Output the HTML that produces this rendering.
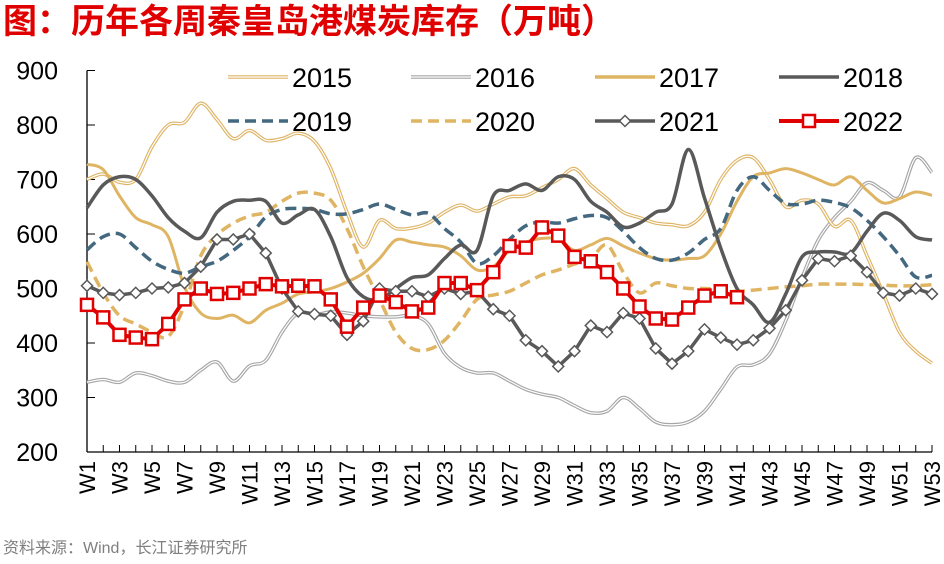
<!DOCTYPE html>
<html><head><meta charset="utf-8"><style>
body{margin:0;background:#fff;width:944px;height:559px;overflow:hidden;font-family:"Liberation Sans","Noto Sans CJK SC",sans-serif}
</style></head><body>
<svg width="944" height="559" xmlns="http://www.w3.org/2000/svg">
<text x="3" y="33" font-size="34" font-weight="bold" fill="#e00000" font-family="Liberation Sans,Noto Sans CJK SC,sans-serif">图：历年各周秦皇岛港煤炭库存（万吨）</text>
<text x="3" y="553" font-size="16" fill="#7f7f7f" font-family="Liberation Sans,Noto Sans CJK SC,sans-serif">资料来源：Wind，长江证券研究所</text>
<g id="axes"></g>
<g id="series"></g>
<g id="legend"></g>
</svg>
<script>
const yTicks=[200,300,400,500,600,700,800,900];
const weeks=[];for(let i=1;i<=53;i++)weeks.push('W'+i);
const s2015=[700,710,695,700,760,800,805,840,810,775,790,772,775,785,770,720,640,576,625,610,611,620,640,653,642,655,668,670,685,700,720,690,665,640,630,620,617,615,640,700,735,740,700,650,662,655,614,625,560,491,420,385,363];
const s2016=[328,333,328,345,340,330,328,350,365,330,358,368,420,455,452,457,455,450,448,448,450,435,381,355,345,345,330,315,306,300,285,272,275,300,280,255,250,255,275,315,356,360,380,441,520,589,630,660,694,680,668,740,713];
const s2017=[728,718,670,630,617,595,503,455,445,451,437,460,473,490,494,500,512,528,555,589,585,580,576,560,534,540,570,585,592,590,570,580,592,578,565,555,552,555,560,600,660,705,712,720,712,700,690,705,680,657,665,677,671];
const s2018=[648,690,705,700,670,630,605,593,640,660,662,660,620,635,645,595,520,485,480,500,520,525,555,580,570,670,680,692,680,705,700,660,640,613,620,640,655,755,666,574,500,470,438,490,558,567,567,565,605,638,625,595,589];
const s2019=[571,595,600,575,550,535,528,540,550,570,595,631,645,647,645,637,637,645,655,645,635,638,610,585,546,560,590,615,622,620,628,634,630,605,575,555,552,565,590,610,680,705,680,656,655,662,658,648,625,595,560,521,524];
const s2020=[549,492,450,435,420,412,470,560,598,620,633,640,660,675,675,662,610,540,480,420,390,388,405,440,480,488,495,510,525,534,545,555,580,530,492,510,505,500,500,498,495,497,500,503,505,508,508,508,507,506,505,505,507];
const s2021=[505,492,488,492,500,502,510,540,590,590,600,565,500,458,453,450,415,440,500,495,495,485,500,490,495,462,450,405,385,357,385,432,420,455,445,390,362,385,425,410,397,405,427,460,515,555,550,560,530,492,487,500,490];
const s2022=[470,447,415,410,407,435,480,500,490,492,500,508,504,505,504,480,430,465,487,475,458,465,510,510,497,530,578,575,612,597,558,550,530,500,467,445,443,465,487,495,484];

const NS='http://www.w3.org/2000/svg';
const X0=87,DX=16.25,Y900=70.5,PX=0.545;
const xs=i=>X0+i*DX, ys=v=>Y900+(900-v)*PX;
function mk(t,a,p){const e=document.createElementNS(NS,t);for(const k in a)e.setAttribute(k,a[k]);p.appendChild(e);return e;}
const axes=document.getElementById('axes');
let e=mk('line',{x1:X0,y1:ys(900),x2:X0,y2:ys(200),stroke:'#000','stroke-width':1.3},axes);


e=mk('line',{x1:X0,y1:ys(200),x2:xs(52),y2:ys(200),stroke:'#000','stroke-width':1.3},axes);


yTicks.forEach(v=>{
 mk('line',{x1:X0,y1:ys(v),x2:X0+8,y2:ys(v),stroke:'#000','stroke-width':1},axes);
 const t=mk('text',{x:58,y:ys(v)+9,'font-size':25,'text-anchor':'end',fill:'#000'},axes);t.textContent=v;
 
 
});
weeks.forEach((w,i)=>{
 if(i>0)mk('line',{x1:xs(i),y1:ys(200),x2:xs(i),y2:ys(200)-7,stroke:'#000','stroke-width':1},axes);
 if(i%2==0){const t=mk('text',{x:0,y:0,'font-size':22,'text-anchor':'end',fill:'#000',transform:`translate(${xs(i)+8},${ys(200)+9}) rotate(-90)`},axes);t.textContent=w;
 
 }
});
function smooth(arr){const p=arr.map((v,i)=>[xs(i),ys(v)]);let d=`M${p[0][0]},${p[0][1]}`;
 for(let i=0;i<p.length-1;i++){const a=p[i-1]||p[i],b=p[i],c=p[i+1],n=p[i+2]||c;
  d+=` C${b[0]+(c[0]-a[0])/6},${b[1]+(c[1]-a[1])/6} ${c[0]-(n[0]-b[0])/6},${c[1]-(n[1]-b[1])/6} ${c[0]},${c[1]}`;}return d;}
function straight(arr){return arr.map((v,i)=>(i?'L':'M')+xs(i)+','+ys(v)).join(' ');}
const G=document.getElementById('series');
function series(name,d,st){const g=mk('g',{},G);
 st.forEach(s=>mk('path',Object.assign({d:d,fill:'none','stroke-linejoin':'round'},s),g));return g;}
series('series-2016',smooth(s2016),[{stroke:'#a6a6a6','stroke-width':3.5},{stroke:'#fff','stroke-width':1.2}]);
series('series-2015',smooth(s2015),[{stroke:'#dfb466','stroke-width':3.5},{stroke:'#fff','stroke-width':1.2}]);
series('series-2017',smooth(s2017),[{stroke:'#dfb463','stroke-width':3}]);
series('series-2020',smooth(s2020),[{stroke:'#dfb463','stroke-width':3.5,'stroke-dasharray':'11 6'}]);
series('series-2019',smooth(s2019),[{stroke:'#44687f','stroke-width':3.5,'stroke-dasharray':'11 6'}]);
series('series-2018',smooth(s2018),[{stroke:'#595959','stroke-width':3.5}]);
const g21=series('series-2021',straight(s2021),[{stroke:'#595959','stroke-width':3.5}]);
s2021.forEach((v,i)=>{const x=xs(i),y=ys(v);const m=mk('path',{d:`M${x},${y-5.5} L${x+5.5},${y} L${x},${y+5.5} L${x-5.5},${y} Z`,fill:'#fff',stroke:'#595959','stroke-width':1.5},g21);
 
 });
const g22=series('series-2022',straight(s2022),[{stroke:'#e00000','stroke-width':4}]);
s2022.forEach((v,i)=>{const m=mk('rect',{x:xs(i)-6,y:ys(v)-6,width:12,height:12,fill:'#fff',stroke:'#e00000','stroke-width':2.5},g22);
 
 });
// legend
const L=document.getElementById('legend');
const leg=[['2015',228,77,'double','#dfb466'],['2016',411,77,'double','#a6a6a6'],['2017',595,77,'solid','#dfb463'],['2018',779,77,'solid','#595959'],
['2019',228,121,'dash','#44687f'],['2020',411,121,'dash','#dfb463'],['2021',595,121,'dia','#595959'],['2022',779,121,'sq','#e00000']];
leg.forEach(([n,x,y,k,c])=>{const g=mk('g',{},L);
 if(k=='double'){mk('line',{x1:x,y1:y,x2:x+60,y2:y,stroke:c,'stroke-width':3.5},g);mk('line',{x1:x,y1:y,x2:x+60,y2:y,stroke:'#fff','stroke-width':1.2},g);}
 else if(k=='dash')mk('line',{x1:x,y1:y,x2:x+60,y2:y,stroke:c,'stroke-width':3.5,'stroke-dasharray':'11 6'},g);
 else mk('line',{x1:x,y1:y,x2:x+60,y2:y,stroke:c,'stroke-width':k=='sq'?4:3.5},g);
 if(k=='dia')mk('path',{d:`M${x+30},${y-5.5} L${x+35.5},${y} L${x+30},${y+5.5} L${x+24.5},${y} Z`,fill:'#fff',stroke:c,'stroke-width':1.5},g);
 if(k=='sq')mk('rect',{x:x+24,y:y-6,width:12,height:12,fill:'#fff',stroke:c,'stroke-width':2.5},g);
 const t=mk('text',{x:x+64,y:y+10,'font-size':27,fill:'#000'},g);t.textContent=n;});
</script>
</body></html>
